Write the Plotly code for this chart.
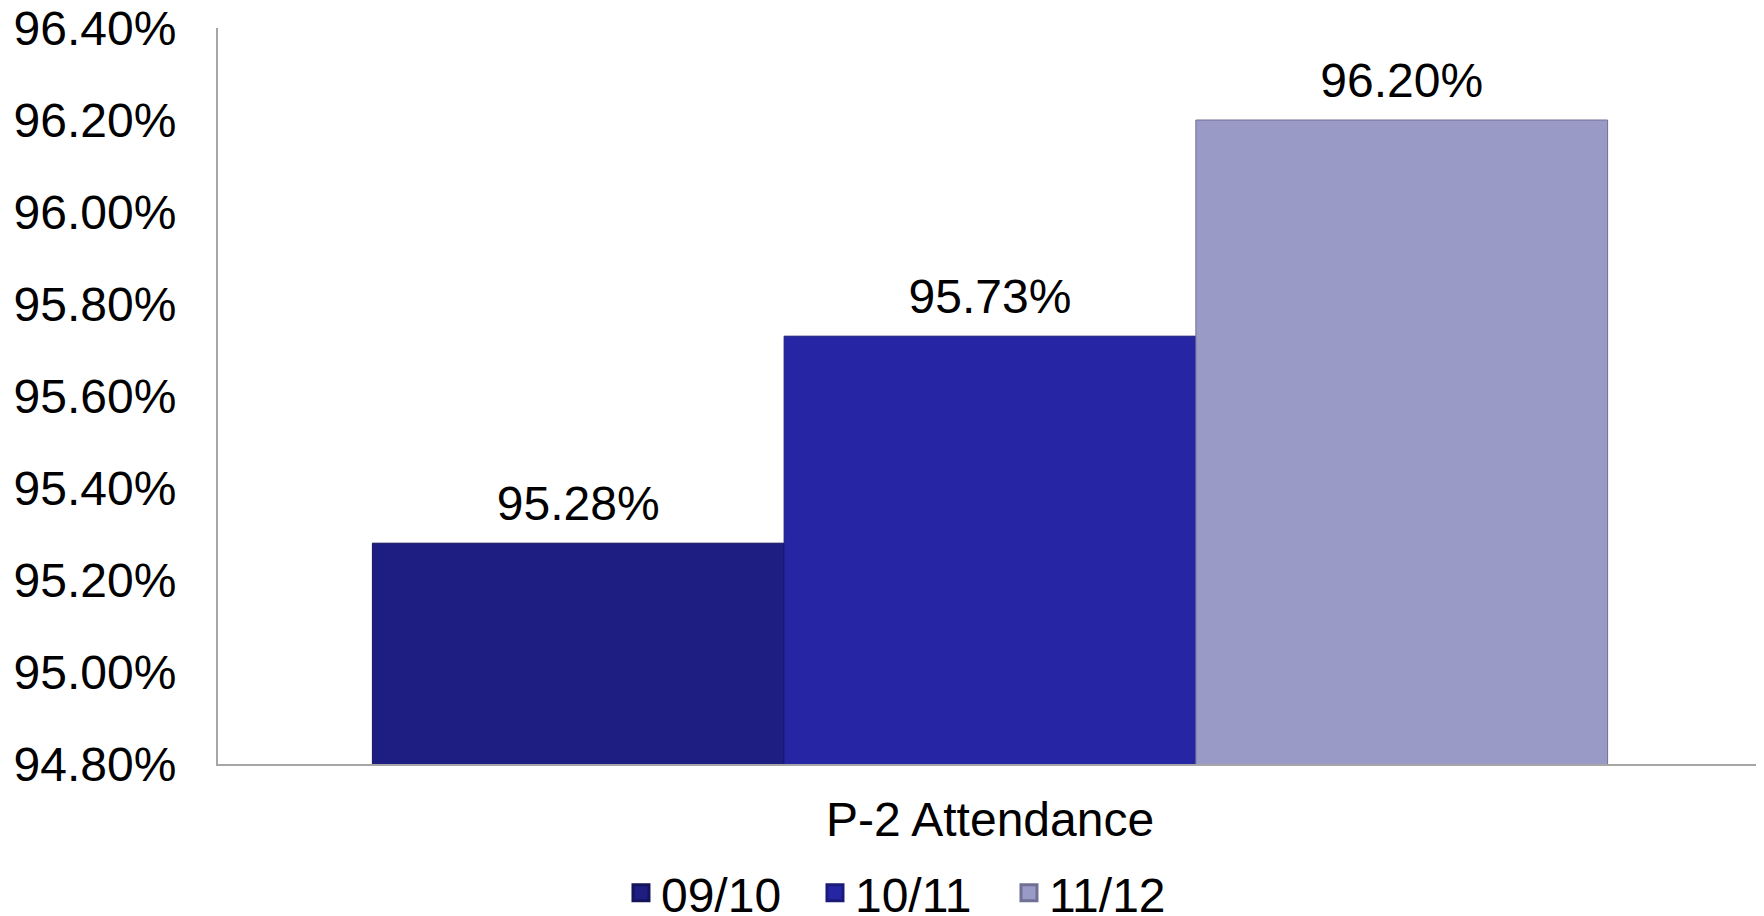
import plotly.graph_objects as go

categories = ["P-2 Attendance"]
series_names = ["09/10", "10/11", "11/12"]
series_values = [95.28, 95.73, 96.20]
series_colors = ["#1e1e82", "#2626a4", "#9a9ac6"]
line_colors = ["#14145a", "#1a1a78", "#707094"]
y_ticks = [94.8, 95.0, 95.2, 95.4, 95.6, 95.8, 96.0, 96.2, 96.4]

FONT = "Liberation Sans, Arial, sans-serif"

fig = go.Figure()
for name, val, col, lc in zip(series_names, series_values, series_colors, line_colors):
    fig.add_trace(go.Bar(
        name=name,
        x=categories,
        y=[val],
        marker=dict(color=col, line=dict(color=lc, width=1)),
        offsetgroup=name,
        alignmentgroup="g",
        showlegend=False,
    ))
for name, val in zip(series_names, series_values):
    fig.add_trace(go.Scatter(
        x=categories,
        y=[val],
        mode="markers+text",
        marker=dict(size=16, opacity=0),
        text=[f"{val:.2f}%"],
        textposition="top center",
        textfont=dict(family=FONT, size=48, color="black"),
        cliponaxis=False,
        showlegend=False,
        hoverinfo="skip",
        offsetgroup=name,
        alignmentgroup="g",
    ))
# legend entries (square swatches)
for name, col, lc in zip(series_names, series_colors, line_colors):
    fig.add_trace(go.Scatter(
        name=name,
        x=categories,
        y=[None],
        mode="markers",
        marker=dict(symbol="square", size=22, color=col, line=dict(color=lc, width=3)),
        offsetgroup=name,
        alignmentgroup="g",
        hoverinfo="skip",
        showlegend=True,
    ))

fig.update_layout(
    width=1756,
    height=908,
    margin=dict(l=210, r=2, t=20, b=152, autoexpand=False),
    paper_bgcolor="white",
    plot_bgcolor="white",
    barmode="group",
    scattermode="group",
    bargap=0.2,
    scattergap=0.2,
    bargroupgap=0,
    font=dict(family=FONT, size=48, color="black"),
    showlegend=True,
    legend=dict(
        orientation="h",
        x=0.261,
        xanchor="left",
        y=-0.1755,
        yanchor="middle",
        entrywidth=149,
        font=dict(family=FONT, size=48, color="black"),
        itemclick=False,
        bgcolor="rgba(0,0,0,0)",
    ),
)

fig.update_yaxes(
    range=[94.8, 96.4],
    tickvals=y_ticks,
    ticktext=[f"{v:.2f}%" for v in y_ticks],
    showgrid=False,
    zeroline=False,
    showline=True,
    linecolor="#a6a6a6",
    linewidth=2,
    ticks="",
    automargin=False,
    ticklabeloverflow="allow",
    ticklabelstandoff=30,
    tickfont=dict(family=FONT, size=48, color="black"),
)
fig.update_xaxes(
    showgrid=False,
    showline=True,
    linecolor="#a6a6a6",
    linewidth=2,
    ticks="",
    automargin=False,
    ticklabeloverflow="allow",
    ticklabelstandoff=12,
    tickfont=dict(family=FONT, size=48, color="black"),
)

fig.write_html("out.html")
